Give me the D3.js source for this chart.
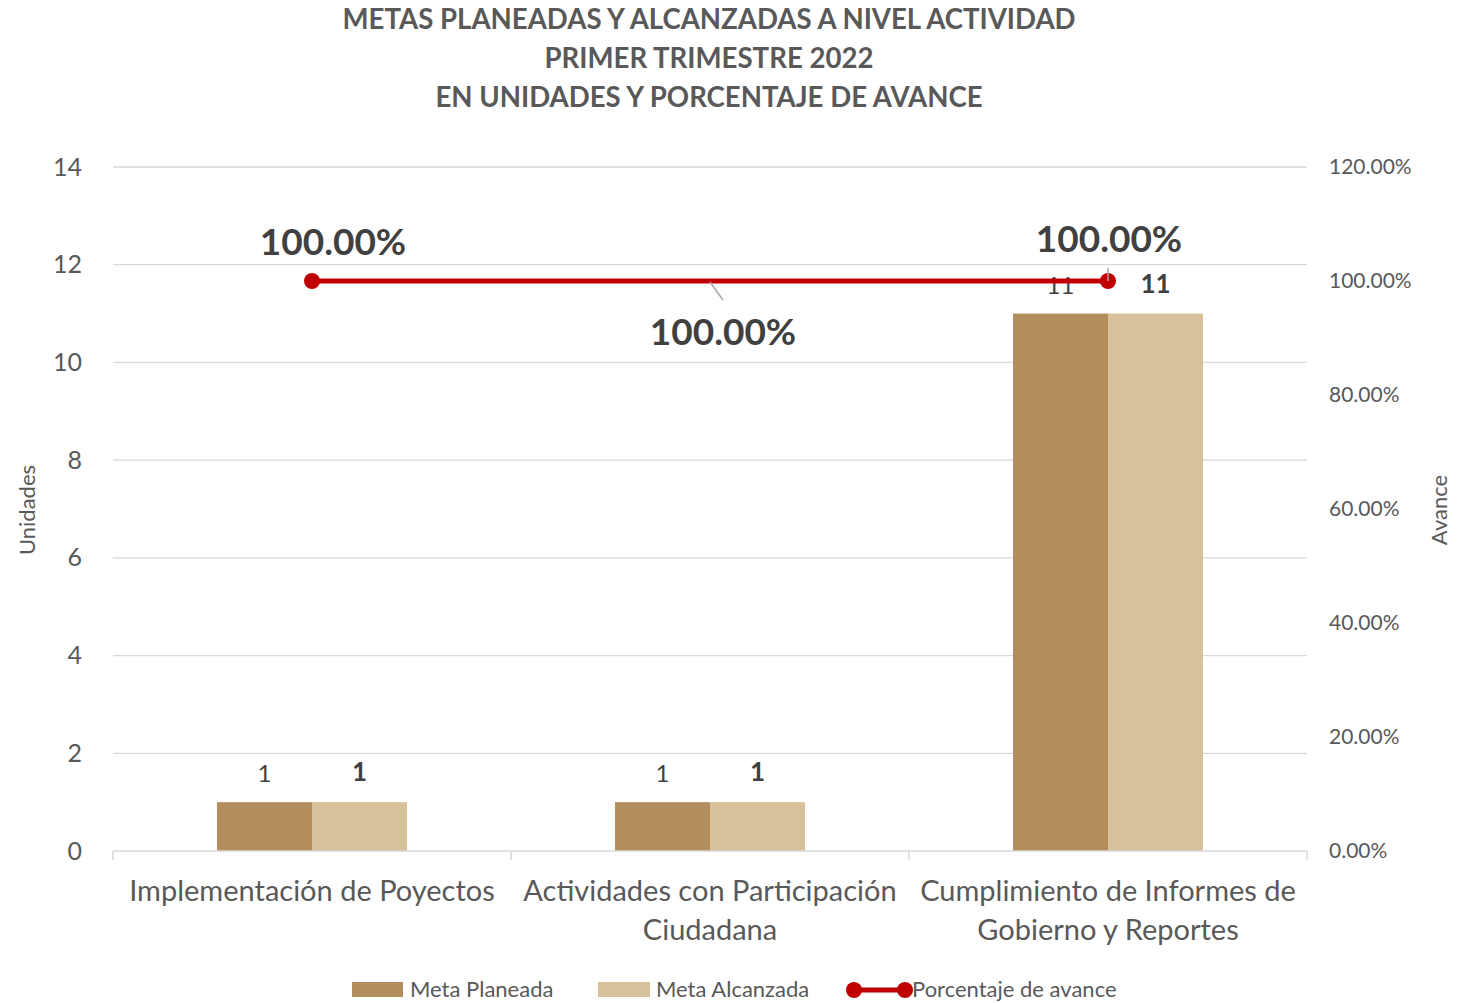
<!DOCTYPE html>
<meta charset="utf-8">
<style>
body { margin: 0; background: #fff; }
svg { font-family: Lato, "Open Sans", sans-serif; }
.grid line { stroke: #d9d9d9; stroke-width: 1.3; }
</style>
<body>
<svg width="1458" height="1003"></svg>
</body>
<script src="https://cdn.jsdelivr.net/npm/d3@7/dist/d3.min.js"></script>
<script>

// data
var categories = ["Implementación de Poyectos", "Actividades con Participación Ciudadana", "Cumplimiento de Informes de Gobierno y Reportes"];
var catLines = [["Implementación de Poyectos"], ["Actividades con Participación", "Ciudadana"], ["Cumplimiento de Informes de", "Gobierno y Reportes"]];
var metaPlaneada = [1, 1, 11];
var metaAlcanzada = [1, 1, 11];
var avance = [1.0, 1.0, 1.0];
var leftTicks = [0, 2, 4, 6, 8, 10, 12, 14];
var rightTicks = [0, 0.2, 0.4, 0.6, 0.8, 1.0, 1.2];
var titleLines = ["METAS PLANEADAS Y ALCANZADAS A NIVEL ACTIVIDAD", "PRIMER TRIMESTRE 2022", "EN UNIDADES Y PORCENTAJE DE AVANCE"];

var cPlan = "#b38d5b", cAlc = "#d6c19a", cRed = "#c00000";

var svg = d3.select("svg");
var pLeft = 113, pRight = 1307, pTop = 167, pBottom = 851;

var x = d3.scaleBand().domain(categories).range([pLeft, pRight]);
var xs = d3.scaleBand().domain(["p", "a"]).range([0, x.bandwidth()]).paddingInner(0).paddingOuter(1.095);
var y = d3.scaleLinear().domain([0, 14]).range([pBottom, pTop]);
var y2 = d3.scaleLinear().domain([0, 1.2]).range([pBottom, pTop]);

// title
svg.append("g").selectAll("text")
  .data(titleLines)
  .enter().append("text")
    .attr("x", 709)
    .attr("y", (d, i) => 29 + i * 39)
    .attr("text-anchor", "middle")
    .attr("font-size", 27.6)
    .attr("font-weight", "bold")
    .attr("fill", "#595959")
    .text(d => d);

// gridlines
svg.append("g").attr("class", "grid")
  .selectAll("line")
  .data(leftTicks.slice(1))
  .enter().append("line")
    .attr("x1", pLeft).attr("x2", pRight)
    .attr("y1", d => y(d)).attr("y2", d => y(d));

// left axis
var yAxis = svg.append("g")
    .attr("transform", `translate(${pLeft},0)`)
    .call(d3.axisLeft(y).tickValues(leftTicks).tickSize(0).tickPadding(31));
yAxis.select(".domain").remove();
yAxis.selectAll("text").attr("font-size", 25).attr("fill", "#595959").attr("font-family", "Lato");

// right axis
var y2Axis = svg.append("g")
    .attr("transform", `translate(${pRight},0)`)
    .call(d3.axisRight(y2).tickValues(rightTicks).tickSize(0).tickPadding(22).tickFormat(d3.format(".2%")));
y2Axis.select(".domain").remove();
y2Axis.selectAll("text").attr("font-size", 21).attr("fill", "#595959").attr("font-family", "Lato");

// axis titles
svg.append("text")
    .attr("transform", "translate(35,510) rotate(-90)")
    .attr("text-anchor", "middle")
    .attr("font-size", 22)
    .attr("fill", "#595959")
    .text("Unidades");
svg.append("text")
    .attr("transform", "translate(1447,510) rotate(-90)")
    .attr("text-anchor", "middle")
    .attr("font-size", 22)
    .attr("fill", "#595959")
    .text("Avance");

// bars
var groups = svg.append("g").selectAll("g")
  .data(categories)
  .enter().append("g")
    .attr("transform", d => `translate(${x(d)},0)`);

groups.append("rect")
    .attr("x", xs("p"))
    .attr("width", xs.bandwidth())
    .attr("y", (d, i) => y(metaPlaneada[i]))
    .attr("height", (d, i) => pBottom - y(metaPlaneada[i]))
    .attr("fill", cPlan);
groups.append("rect")
    .attr("x", xs("a"))
    .attr("width", xs.bandwidth())
    .attr("y", (d, i) => y(metaAlcanzada[i]))
    .attr("height", (d, i) => pBottom - y(metaAlcanzada[i]))
    .attr("fill", cAlc);

// bar labels
groups.append("text")
    .attr("x", xs("p") + xs.bandwidth() / 2)
    .attr("y", (d, i) => y(metaPlaneada[i]) - 20)
    .attr("text-anchor", "middle")
    .attr("font-size", 24)
    .attr("fill", "#404040")
    .text((d, i) => metaPlaneada[i]);
groups.append("text")
    .attr("x", xs("a") + xs.bandwidth() / 2)
    .attr("y", (d, i) => y(metaAlcanzada[i]) - 21)
    .attr("text-anchor", "middle")
    .attr("font-size", 26)
    .attr("font-weight", "bold")
    .attr("fill", "#404040")
    .text((d, i) => metaAlcanzada[i]);

// x axis
svg.append("line")
    .attr("x1", pLeft).attr("x2", pRight)
    .attr("y1", pBottom).attr("y2", pBottom)
    .attr("stroke", "#d9d9d9").attr("stroke-width", 1.5);
svg.append("g").selectAll("line")
  .data(d3.range(categories.length + 1))
  .enter().append("line")
    .attr("x1", i => pLeft + i * x.step()).attr("x2", i => pLeft + i * x.step())
    .attr("y1", pBottom).attr("y2", pBottom + 9)
    .attr("stroke", "#d9d9d9").attr("stroke-width", 1.5);

var catText = svg.append("g").selectAll("text")
  .data(categories)
  .enter().append("text")
    .attr("x", d => x(d) + x.bandwidth() / 2)
    .attr("y", 901)
    .attr("text-anchor", "middle")
    .attr("font-size", 29)
    .attr("fill", "#595959");
catText.selectAll("tspan")
  .data((d, i) => catLines[i])
  .enter().append("tspan")
    .attr("x", function() { return this.parentNode.getAttribute("x"); })
    .attr("dy", (d, i) => i === 0 ? 0 : 39)
    .text(d => d);

// line
var cx = d => x(d) + x.bandwidth() / 2;
svg.append("path")
    .datum(categories)
    .attr("fill", "none")
    .attr("stroke", cRed)
    .attr("stroke-width", 5)
    .attr("d", d3.line().x(d => cx(d)).y((d, i) => y2(avance[i])));

svg.append("g").selectAll("circle")
  .data(categories.filter((d, i) => i !== 1))
  .enter().append("circle")
    .attr("cx", d => cx(d))
    .attr("cy", d => y2(avance[categories.indexOf(d)]))
    .attr("r", 8)
    .attr("fill", cRed);

// percent labels
var pctFmt = d3.format(".2%");
var pctPos = [[21, -26], [13, 64], [1, -29]];
svg.append("g").selectAll("text")
  .data(categories)
  .enter().append("text")
    .attr("x", (d, i) => cx(d) + pctPos[i][0])
    .attr("y", (d, i) => y2(avance[i]) + pctPos[i][1])
    .attr("text-anchor", "middle")
    .attr("font-size", 37)
    .attr("font-weight", "bold")
    .attr("fill", "#404040")
    .text((d, i) => pctFmt(avance[i]));

// leader lines
svg.append("line")
    .attr("x1", cx(categories[1])).attr("y1", y2(avance[1]) + 1)
    .attr("x2", cx(categories[1]) + 13).attr("y2", y2(avance[1]) + 19)
    .attr("stroke", "#a6a6a6").attr("stroke-width", 1.5);
svg.append("line")
    .attr("x1", cx(categories[2])).attr("y1", y2(avance[2]))
    .attr("x2", cx(categories[2])).attr("y2", y2(avance[2]) - 13)
    .attr("stroke", "#a6a6a6").attr("stroke-width", 1.5);

// legend
var lg = svg.append("g").attr("font-size", 22).attr("fill", "#595959");
lg.append("rect").attr("x", 352).attr("y", 982).attr("width", 51).attr("height", 15).attr("fill", cPlan);
lg.append("text").attr("x", 410).attr("y", 997).text("Meta Planeada");
lg.append("rect").attr("x", 598).attr("y", 982).attr("width", 52).attr("height", 15).attr("fill", cAlc);
lg.append("text").attr("x", 656).attr("y", 997).text("Meta Alcanzada");
lg.append("line").attr("x1", 854).attr("x2", 905).attr("y1", 990).attr("y2", 990).attr("stroke", cRed).attr("stroke-width", 5);
lg.append("circle").attr("cx", 854).attr("cy", 990).attr("r", 8).attr("fill", cRed);
lg.append("circle").attr("cx", 905).attr("cy", 990).attr("r", 8).attr("fill", cRed);
lg.append("text").attr("x", 912).attr("y", 997).text("Porcentaje de avance");

</script>
